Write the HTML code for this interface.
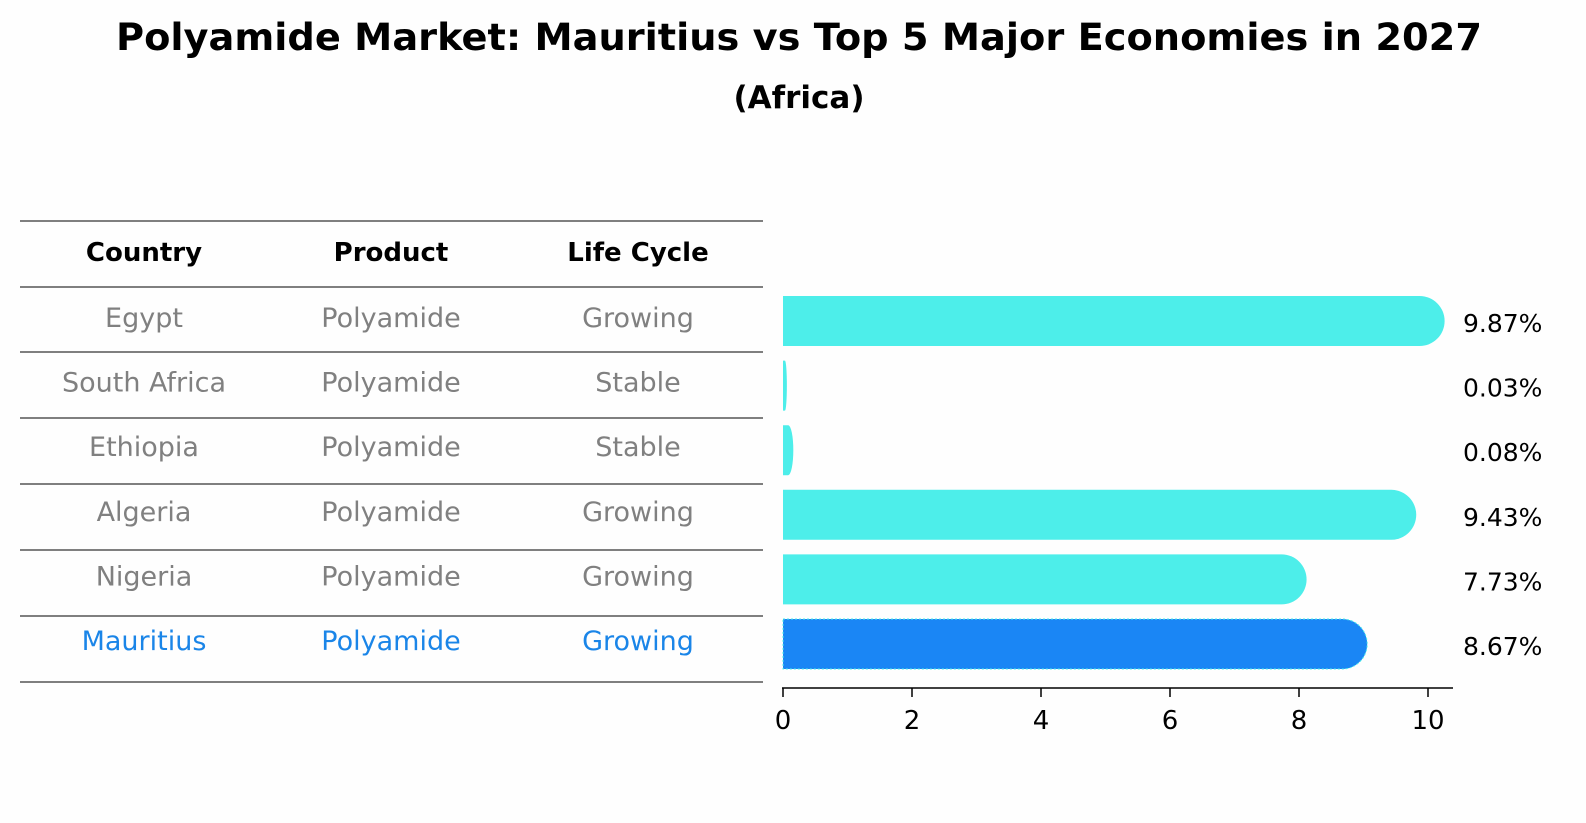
<!DOCTYPE html>
<html><head><meta charset="utf-8"><style>
html,body{margin:0;padding:0;width:1586px;height:823px;background:#fefefe;overflow:hidden}
svg{display:block}
svg text{font-family:"DejaVu Sans","Liberation Sans",sans-serif}
</style></head><body>
<svg id="c" width="1586" height="823" viewBox="0 0 1586 823">
<text x="799" y="50" text-anchor="middle" font-size="37" font-weight="bold" textLength="1366" lengthAdjust="spacingAndGlyphs">Polyamide Market: Mauritius vs Top 5 Major Economies in 2027</text>
<text x="799" y="108" text-anchor="middle" font-size="31" font-weight="bold">(Africa)</text>
<g id="tbl"></g>
<g id="bars"></g>
</svg>
<script>
const countries=["Egypt","South Africa","Ethiopia","Algeria","Nigeria","Mauritius"];
const products=["Polyamide","Polyamide","Polyamide","Polyamide","Polyamide","Polyamide"];
const lifeCycles=["Growing","Stable","Stable","Growing","Growing","Growing"];
const values=[9.87,0.03,0.08,9.43,7.73,8.67];
const valueLabels=["9.87%","0.03%","0.08%","9.43%","7.73%","8.67%"];
const ticks=[0,2,4,6,8,10];
const NS="http://www.w3.org/2000/svg";
const tbl=document.getElementById('tbl'),bars=document.getElementById('bars');
function mk(tag,attrs,parent,txt){const e=document.createElementNS(NS,tag);for(const k in attrs)e.setAttribute(k,attrs[k]);if(txt!==undefined)e.textContent=txt;parent.appendChild(e);return e;}
const x=v=>783+v*64.5;
const rowY=i=>321+i*64.6;
const lineYs=[221,287,352,418,484,550,616,682];
lineYs.forEach(ly=>{const l=mk('line',{x1:20,x2:763,y1:ly,y2:ly,stroke:'#000','stroke-width':1},tbl);

});
const colX=[144,391,638];
["Country","Product","Life Cycle"].forEach((h,j)=>{const t=mk('text',{x:colX[j],y:261,'text-anchor':'middle','font-size':26,'font-weight':'bold'},tbl,h);

});
countries.forEach((c,i)=>{const last=i===countries.length-1;const col=last?'#1a85e8':'#808080';
[c,products[i],lifeCycles[i]].forEach((v,j)=>{const t=mk('text',{x:colX[j],y:rowY(i)+6,'text-anchor':'middle','font-size':27,fill:col},tbl,v);

});});
const h=50,r=25;
values.forEach((v,i)=>{const x0=x(0),w=x(v)-x0,ext=Math.min(r,w),y0=rowY(i)-h/2;
const last=i===values.length-1;const col=last?'#1a86f5':'#4deeea';
const rr=Math.max(0.5,ext);const xe=x0+w+ext;
const d=`M${x0},${y0}H${xe-rr}A${rr},${h/2} 0 0 1 ${xe-rr},${y0+h}H${x0}Z`;
const attrs={d:d,fill:col};
if(last){attrs.stroke='#4deeea';attrs['stroke-width']=1;attrs['stroke-dasharray']='2 2';}
const p=mk('path',attrs,bars);


const t=mk('text',{x:1463,y:rowY(i)+11,'font-size':25},bars,valueLabels[i]);

});
const ax=mk('line',{x1:782,x2:1453,y1:688,y2:688,stroke:'#000','stroke-width':1.5},bars);


ticks.forEach(tv=>{const tk=mk('line',{x1:x(tv),x2:x(tv),y1:688,y2:697,stroke:'#000','stroke-width':1.5},bars);


const tl=mk('text',{x:x(tv),y:729,'text-anchor':'middle','font-size':26},bars,String(tv));

});
</script>
</body></html>
